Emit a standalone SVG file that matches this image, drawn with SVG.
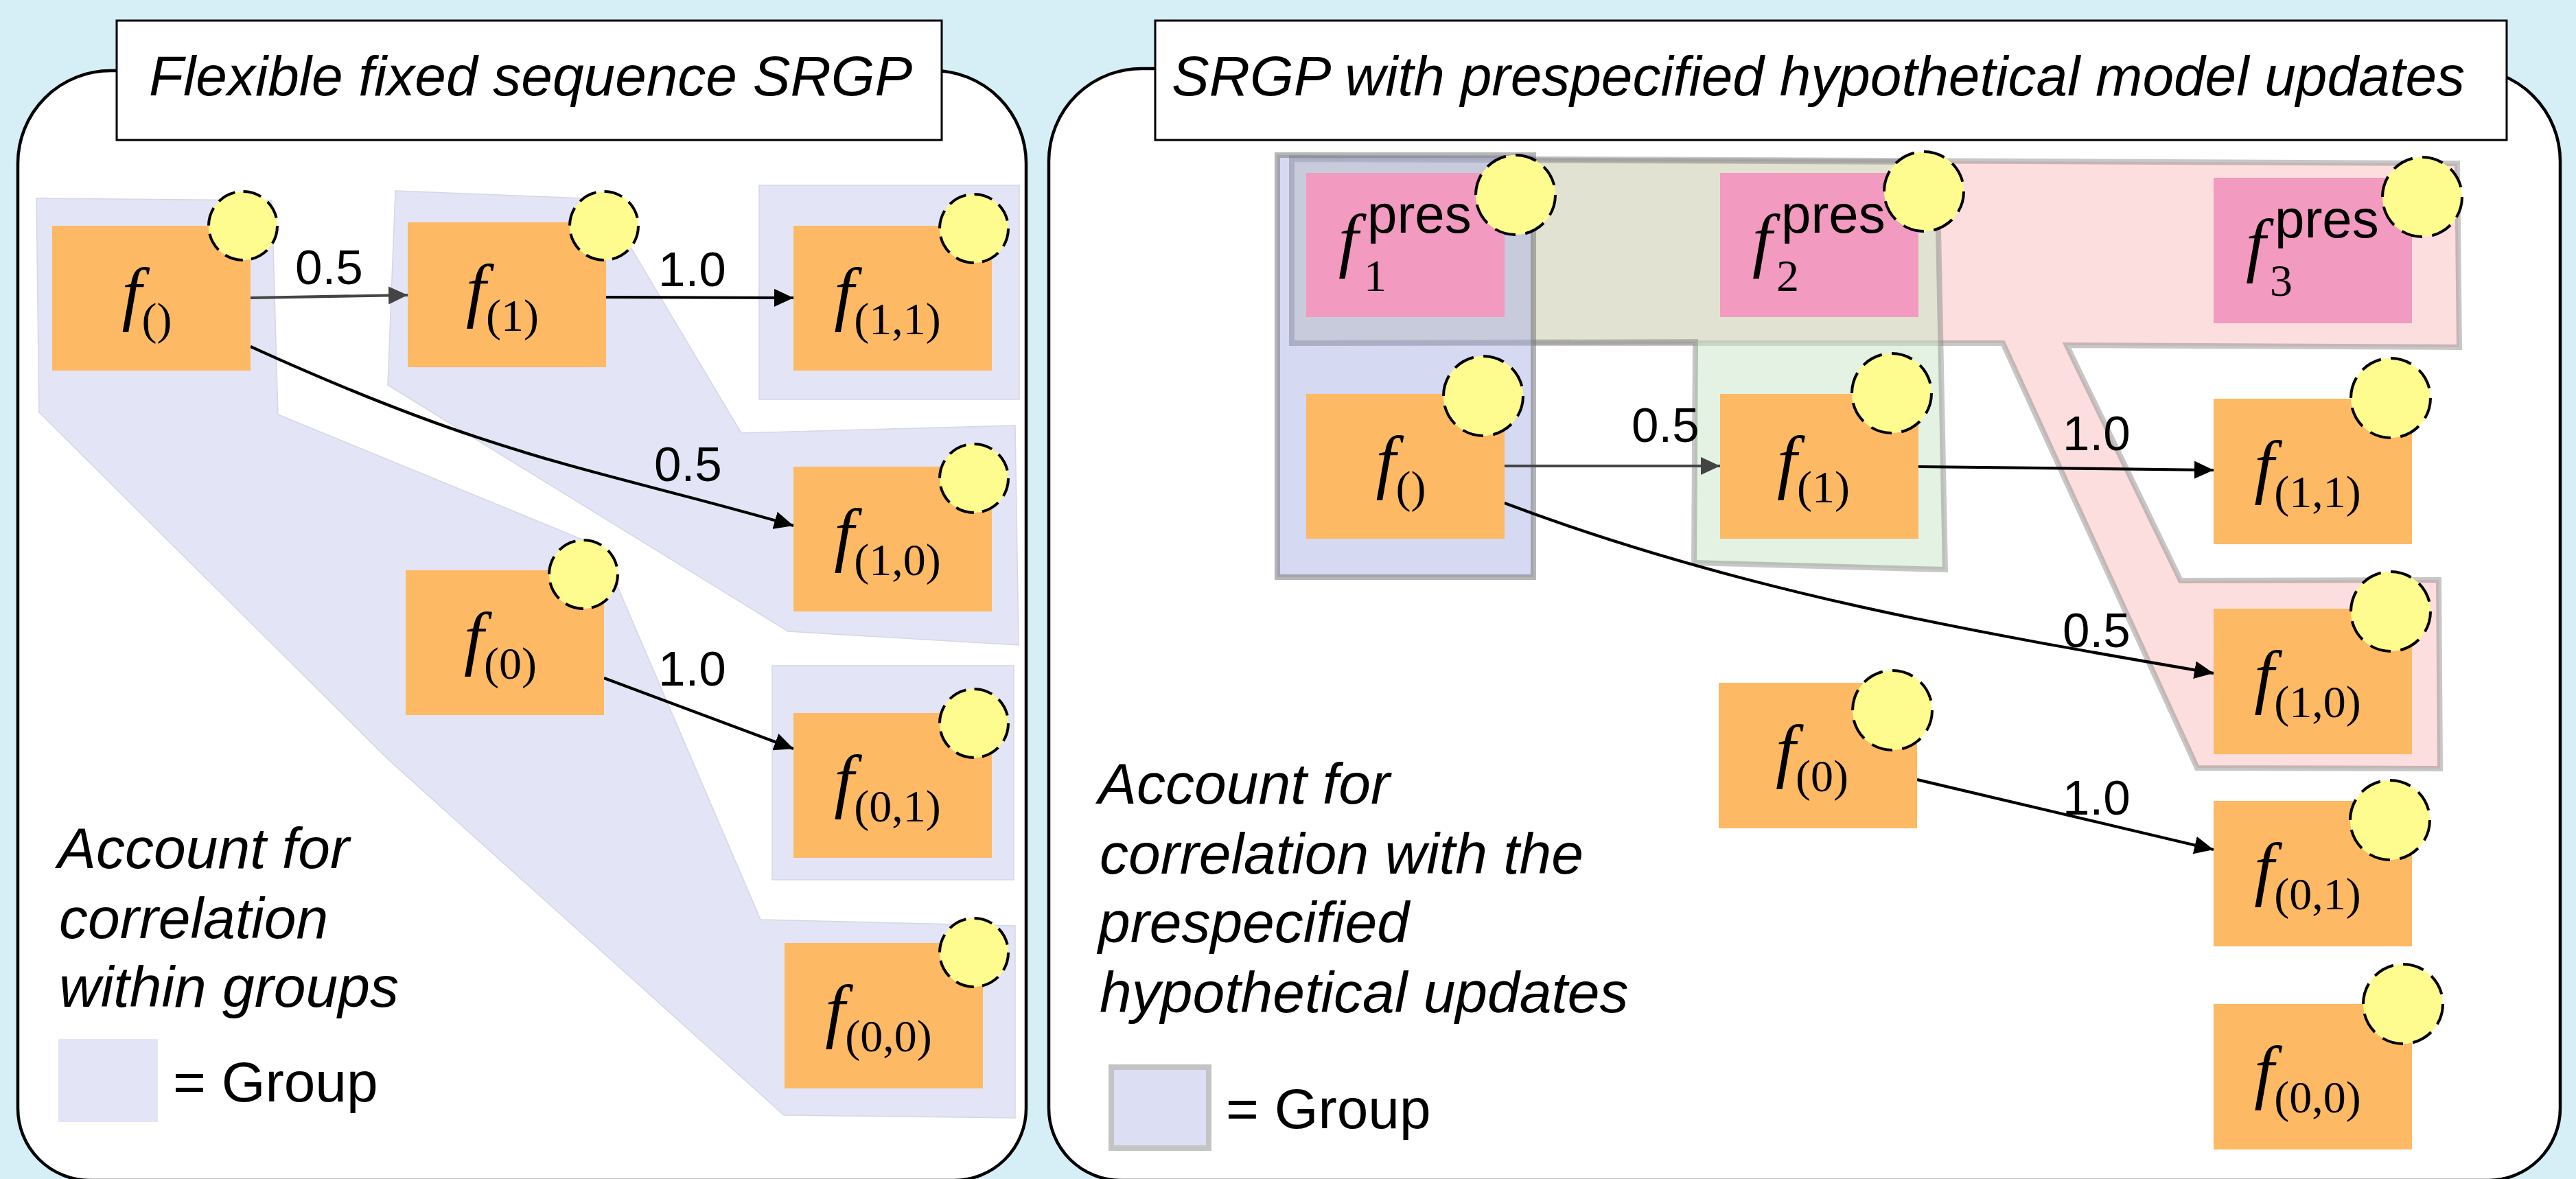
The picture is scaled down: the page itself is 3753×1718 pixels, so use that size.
<svg xmlns="http://www.w3.org/2000/svg" width="3753" height="1718" viewBox="0 0 3753 1718">
  <defs>
    <style>
      .bg { fill: #D6EEF6; }
      .panel { fill: #FFFFFF; stroke: #000; stroke-width: 4.5; }
      .tbox { fill: #FFFFFF; stroke: #000; stroke-width: 3; }
      .title { font-family: "Liberation Sans", Arial, sans-serif; font-size: 82px; font-style: italic; fill: #000; }
      .note { font-family: "Liberation Sans", Arial, sans-serif; font-size: 84px; font-style: italic; fill: #000; }
      .legend { font-family: "Liberation Sans", Arial, sans-serif; font-size: 82px; fill: #000; }
      .lbl { font-family: "Liberation Sans", Arial, sans-serif; font-size: 71px; fill: #000; }
      .grp { fill: #E3E4F5; stroke: #D6D6E6; stroke-width: 1.5; }
      .gpink { fill: rgba(252,190,190,0.5); stroke: rgba(130,130,130,0.45); stroke-width: 8; }
      .ggreen { fill: rgba(199,229,199,0.5); stroke: rgba(130,130,130,0.45); stroke-width: 8; }
      .gblue { fill: rgba(171,179,229,0.5); stroke: rgba(120,120,120,0.55); stroke-width: 8; }
      .node { fill: #FDB964; }
      .pres { fill: #F29ABF; }
      .dot { fill: #FEFC8E; stroke: #000; stroke-width: 4; stroke-dasharray: 27 12.3; }
      .dotL { fill: #FEFC8E; stroke: #000; stroke-width: 4; stroke-dasharray: 31 14.5; }
      .edge { fill: none; stroke: #000; stroke-width: 4.2; }
      .edge.gray { stroke: #444; }
      .m { font-family: "Liberation Serif", "Times New Roman", serif; font-size: 104px; fill: #000; }
      .fi { font-style: italic; }
      .sub { font-size: 66px; }
      .sup { font-family: "Liberation Sans", Arial, sans-serif; font-size: 78px; }
    </style>
    <marker id="ah" markerUnits="userSpaceOnUse" markerWidth="28" markerHeight="26" refX="28" refY="13" orient="auto">
      <path d="M0,0 L28,13 L0,26 Z" fill="#000"/>
    </marker>
    <marker id="ahg" markerUnits="userSpaceOnUse" markerWidth="28" markerHeight="26" refX="28" refY="13" orient="auto">
      <path d="M0,0 L28,13 L0,26 Z" fill="#444"/>
    </marker>
  </defs>

  <rect class="bg" x="0" y="0" width="3753" height="1718"/>

  <!-- panels -->
  <path class="panel" d="M161,103 H1360 A135,135 0 0 1 1495,238 V1615 A105,105 0 0 1 1390,1720 H131 A105,105 0 0 1 26,1615 V238 A135,135 0 0 1 161,103 Z"/>
  <path class="panel" d="M1668,100 H3595 A135,135 0 0 1 3730,235 V1615 A105,105 0 0 1 3625,1720 H1633 A105,105 0 0 1 1528,1615 V235 A135,135 0 0 1 1668,100 Z"/>

  <g id="title-left">
    <rect class="tbox" x="170" y="30" width="1202" height="174"/>
    <text class="title" x="217" y="139">Flexible fixed sequence SRGP</text>
  </g>
  <g id="title-right">
    <rect class="tbox" x="1683" y="30" width="1969" height="174"/>
    <text class="title" x="1707" y="139">SRGP with prespecified hypothetical model updates</text>
  </g>

  <!-- groups, left panel -->
  <g id="groups-left">
    <polygon class="grp" points="53,289 396,292 405,604 875,797 1108,1340 1479,1349 1479,1629 1142,1625 567,1108 57,601"/>
    <polygon class="grp" points="576,278 877,290 1080,631 1479,620 1484,940 1148,920 565,561"/>
    <rect class="grp" x="1106" y="270" width="379" height="312"/>
    <rect class="grp" x="1125" y="970" width="352" height="312"/>
  </g>

  <!-- groups, right panel -->
  <g id="groups-right">
    <polygon class="gpink" points="1882,230 3580,238 3583,506 3011,503 3177,846 3553,845 3555,1120 3201,1119 2918,500 1882,500"/>
    <polygon class="ggreen" points="1882,232 2822,236 2834,830 2468,820 2470,498 1882,500"/>
    <rect class="gblue" x="1861" y="226" width="373" height="615"/>
  </g>

  <!-- connectors -->
  <g id="connectors">
    <path class="edge gray" d="M365,434 L594,430" marker-end="url(#ahg)"/>
    <path class="edge" d="M883,433 L1156,434" marker-end="url(#ah)"/>
    <path class="edge" d="M365,505 C725,669 856,680 1156,766" marker-end="url(#ah)"/>
    <path class="edge" d="M880,988 L1156,1091" marker-end="url(#ah)"/>
    <path class="edge gray" d="M2192,679 L2506,679" marker-end="url(#ahg)"/>
    <path class="edge" d="M2795,680 L3225,685" marker-end="url(#ah)"/>
    <path class="edge" d="M2192,733 C2536,863 2881,922 3225,981" marker-end="url(#ah)"/>
    <path class="edge" d="M2793,1136 L3225,1238" marker-end="url(#ah)"/>
    <text class="lbl" x="430" y="414">0.5</text>
    <text class="lbl" x="959" y="417">1.0</text>
    <text class="lbl" x="953" y="701">0.5</text>
    <text class="lbl" x="959" y="999">1.0</text>
    <text class="lbl" x="2377" y="644">0.5</text>
    <text class="lbl" x="3005" y="656">1.0</text>
    <text class="lbl" x="3005" y="943">0.5</text>
    <text class="lbl" x="3005" y="1187">1.0</text>
  </g>

  <!-- nodes, left panel -->
  <g id="L-f">
    <rect class="node" x="76" y="329" width="289" height="211"/>
    <circle class="dot" cx="354" cy="329" r="50"/>
    <text class="m" x="214" y="462" text-anchor="middle"><tspan class="fi">f</tspan><tspan class="sub" dy="25">()</tspan></text>
  </g>
  <g id="L-f1">
    <rect class="node" x="594" y="324" width="289" height="211"/>
    <circle class="dot" cx="880" cy="329" r="50"/>
    <text class="m" x="732" y="457" text-anchor="middle"><tspan class="fi">f</tspan><tspan class="sub" dy="25">(1)</tspan></text>
  </g>
  <g id="L-f11">
    <rect class="node" x="1156" y="329" width="289" height="211"/>
    <circle class="dot" cx="1419" cy="333" r="50"/>
    <text class="m" x="1293" y="462" text-anchor="middle"><tspan class="fi">f</tspan><tspan class="sub" dy="25">(1,1)</tspan></text>
  </g>
  <g id="L-f10">
    <rect class="node" x="1156" y="680" width="289" height="211"/>
    <circle class="dot" cx="1419" cy="697" r="50"/>
    <text class="m" x="1293" y="813" text-anchor="middle"><tspan class="fi">f</tspan><tspan class="sub" dy="25">(1,0)</tspan></text>
  </g>
  <g id="L-f0">
    <rect class="node" x="591" y="831" width="289" height="211"/>
    <circle class="dot" cx="850" cy="837" r="50"/>
    <text class="m" x="729" y="964" text-anchor="middle"><tspan class="fi">f</tspan><tspan class="sub" dy="25">(0)</tspan></text>
  </g>
  <g id="L-f01">
    <rect class="node" x="1156" y="1039" width="289" height="211"/>
    <circle class="dot" cx="1419" cy="1054" r="50"/>
    <text class="m" x="1293" y="1172" text-anchor="middle"><tspan class="fi">f</tspan><tspan class="sub" dy="25">(0,1)</tspan></text>
  </g>
  <g id="L-f00">
    <rect class="node" x="1143" y="1374" width="289" height="212"/>
    <circle class="dot" cx="1419" cy="1388" r="50"/>
    <text class="m" x="1280" y="1507" text-anchor="middle"><tspan class="fi">f</tspan><tspan class="sub" dy="25">(0,0)</tspan></text>
  </g>

  <!-- nodes, right panel -->
  <g id="R-f1pres">
    <rect class="pres" x="1903" y="252" width="289" height="210"/>
    <circle class="dotL" cx="2208" cy="284" r="58"/>
    <text class="m"><tspan class="fi" x="1950" y="384">f</tspan><tspan class="sup" x="1992" y="339">pres</tspan><tspan class="sub" x="1987" y="424">1</tspan></text>
  </g>
  <g id="R-f2pres">
    <rect class="pres" x="2506" y="252" width="289" height="210"/>
    <circle class="dotL" cx="2803" cy="279" r="58"/>
    <text class="m"><tspan class="fi" x="2553" y="384">f</tspan><tspan class="sup" x="2595" y="339">pres</tspan><tspan class="sub" x="2588" y="424">2</tspan></text>
  </g>
  <g id="R-f3pres">
    <rect class="pres" x="3225" y="259" width="289" height="212"/>
    <circle class="dotL" cx="3529" cy="287" r="58"/>
    <text class="m"><tspan class="fi" x="3272" y="391">f</tspan><tspan class="sup" x="3314" y="346">pres</tspan><tspan class="sub" x="3307" y="431">3</tspan></text>
  </g>
  <g id="R-f">
    <rect class="node" x="1903" y="574" width="289" height="211"/>
    <circle class="dotL" cx="2161" cy="577" r="58"/>
    <text class="m" x="2041" y="707" text-anchor="middle"><tspan class="fi">f</tspan><tspan class="sub" dy="25">()</tspan></text>
  </g>
  <g id="R-f1">
    <rect class="node" x="2506" y="574" width="289" height="211"/>
    <circle class="dotL" cx="2756" cy="573" r="58"/>
    <text class="m" x="2642" y="707" text-anchor="middle"><tspan class="fi">f</tspan><tspan class="sub" dy="25">(1)</tspan></text>
  </g>
  <g id="R-f11">
    <rect class="node" x="3225" y="581" width="289" height="212"/>
    <circle class="dotL" cx="3483" cy="580" r="58"/>
    <text class="m" x="3362" y="714" text-anchor="middle"><tspan class="fi">f</tspan><tspan class="sub" dy="25">(1,1)</tspan></text>
  </g>
  <g id="R-f10">
    <rect class="node" x="3225" y="887" width="289" height="212"/>
    <circle class="dotL" cx="3483" cy="891" r="58"/>
    <text class="m" x="3362" y="1020" text-anchor="middle"><tspan class="fi">f</tspan><tspan class="sub" dy="25">(1,0)</tspan></text>
  </g>
  <g id="R-f0">
    <rect class="node" x="2504" y="995" width="289" height="212"/>
    <circle class="dotL" cx="2757" cy="1035" r="58"/>
    <text class="m" x="2640" y="1128" text-anchor="middle"><tspan class="fi">f</tspan><tspan class="sub" dy="25">(0)</tspan></text>
  </g>
  <g id="R-f01">
    <rect class="node" x="3225" y="1167" width="289" height="212"/>
    <circle class="dotL" cx="3482" cy="1195" r="58"/>
    <text class="m" x="3362" y="1300" text-anchor="middle"><tspan class="fi">f</tspan><tspan class="sub" dy="25">(0,1)</tspan></text>
  </g>
  <g id="R-f00">
    <rect class="node" x="3225" y="1463" width="289" height="212"/>
    <circle class="dotL" cx="3501" cy="1463" r="58"/>
    <text class="m" x="3362" y="1596" text-anchor="middle"><tspan class="fi">f</tspan><tspan class="sub" dy="25">(0,0)</tspan></text>
  </g>

  <!-- notes and legends -->
  <g id="note-left">
    <text class="note" x="84" y="1265">Account for</text>
    <text class="note" x="86" y="1367">correlation</text>
    <text class="note" x="86" y="1467">within groups</text>
    <rect x="85" y="1514" width="145" height="121" fill="#E3E4F5"/>
    <text class="legend" x="252" y="1605">= Group</text>
  </g>
  <g id="note-right">
    <text class="note" x="1600" y="1171">Account for</text>
    <text class="note" x="1602" y="1273">correlation with the</text>
    <text class="note" x="1600" y="1373">prespecified</text>
    <text class="note" x="1602" y="1475">hypothetical updates</text>
    <rect x="1619" y="1555" width="142" height="118" fill="#DCDEF4" stroke="#C4C4C4" stroke-width="8"/>
    <text class="legend" x="1786" y="1644">= Group</text>
  </g>
</svg>
